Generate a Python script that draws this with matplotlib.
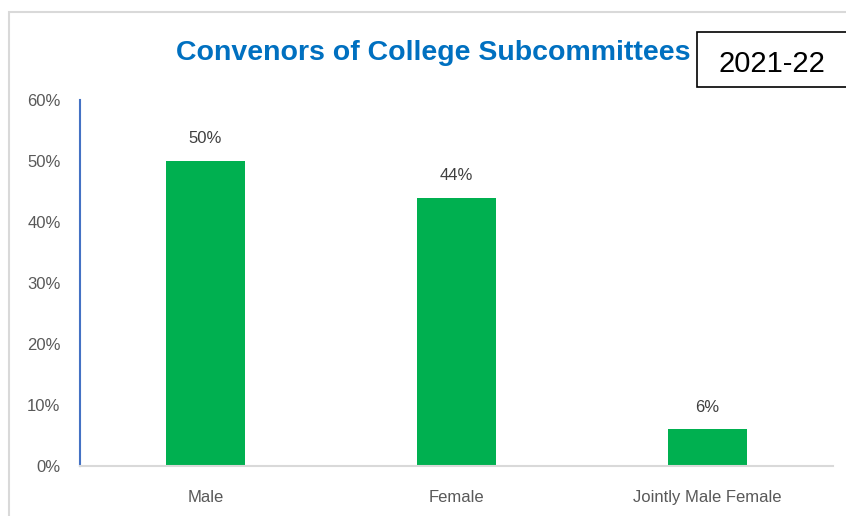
import matplotlib.pyplot as plt
from matplotlib.patches import Rectangle
from matplotlib.ticker import PercentFormatter

categories = ["Male", "Female", "Jointly Male Female"]
shares = [50, 44, 6]
y_ticks = [0, 10, 20, 30, 40, 50, 60]

W, H = 846, 516
fig = plt.figure(figsize=(W / 100, H / 100), dpi=100)
plt.rcParams["font.family"] = ["Liberation Sans", "DejaVu Sans"]


def fx(px):
    return px / W


def fy(py):
    return 1 - py / H


# outer chart-area border (cut off on right and bottom)
fig.patches.append(Rectangle((fx(9), fy(530)), fx(860) - fx(9), fy(12) - fy(530),
                             transform=fig.transFigure, fill=False,
                             edgecolor="#D9D9D9", linewidth=1.5))

ax = fig.add_axes([fx(80), fy(466), fx(833) - fx(80), fy(100) - fy(466)])
x = list(range(len(categories)))
ax.bar(x, shares, width=0.315, color="#00B050")
for xi, v in zip(x, shares):
    ax.text(xi, v + 2.4, f"{v}%", ha="center", va="bottom", fontsize=12, color="#404040")

ax.set_xlim(-0.5, 2.5)
ax.set_ylim(0, 60)
ax.set_yticks(y_ticks)
ax.yaxis.set_major_formatter(PercentFormatter(decimals=0))
ax.set_xticks(x, categories)
ax.tick_params(axis="both", length=0, labelsize=12, labelcolor="#595959")
ax.tick_params(axis="y", pad=14)
ax.tick_params(axis="x", pad=17)
for side in ("top", "right"):
    ax.spines[side].set_visible(False)
ax.spines["left"].set_color("#4472C4")
ax.spines["left"].set_linewidth(1.5)
ax.spines["bottom"].set_color("#D9D9D9")
ax.spines["bottom"].set_linewidth(1.5)

fig.text(fx(433), fy(53), "Convenors of College Subcommittees", ha="center", va="center",
         fontsize=20.5, fontweight="bold", color="#0070C0")

# year box
fig.patches.append(Rectangle((fx(697), fy(87)), fx(900) - fx(697), fy(32) - fy(87),
                             transform=fig.transFigure, fill=True, facecolor="white",
                             edgecolor="black", linewidth=1.2))
fig.text(fx(772), fy(64), "2021-22", ha="center", va="center", fontsize=21, color="black")

fig.savefig("out.png", dpi=100)
